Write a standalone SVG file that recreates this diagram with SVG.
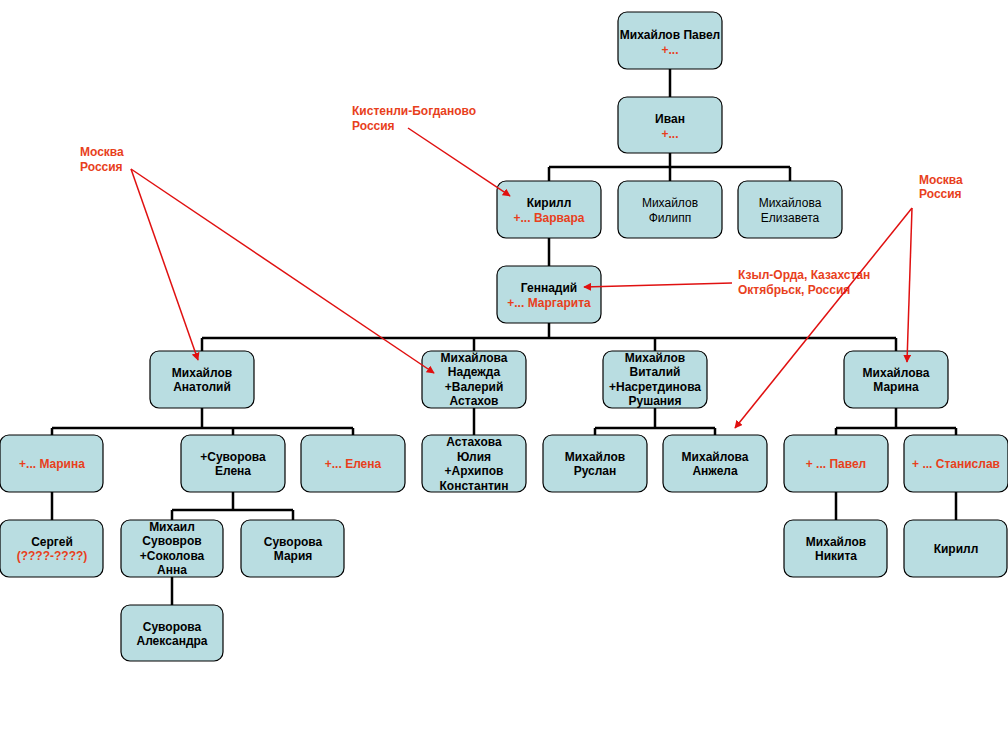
<svg xmlns="http://www.w3.org/2000/svg" width="1008" height="756" viewBox="0 0 1008 756">
<defs>
<style>
.box{fill:#b9dde1;stroke:#000;stroke-width:1.2}
text{font-family:"Liberation Sans",Arial,sans-serif;font-size:12px;font-weight:bold;fill:#000;text-anchor:middle}
.n{font-weight:normal}
.r{fill:#e8401c}
.ann{fill:#e8401c;text-anchor:start}
.c{stroke:#000;stroke-width:2.5;fill:none}
.a{stroke:#e01010;stroke-width:1.5;fill:none;marker-end:url(#ah)}
</style>
<marker id="ah" viewBox="0 0 10 10" refX="9" refY="5" markerWidth="8" markerHeight="8" markerUnits="userSpaceOnUse" orient="auto">
<path d="M0,0 L10,5 L0,10 z" fill="#e01010"/>
</marker>
</defs>
<rect width="1008" height="756" fill="#fff"/>
<g id="connectors">
<path class="c" d="M670,69 V97 M670,153 V167 M549,167 H790 M549,167 V181 M670,167 V181 M790,167 V181"/>
<path class="c" d="M549,238 V266 M549,323 V338 M202,338 H896 M202,338 V351 M474,338 V351 M655,338 V351 M896,338 V351"/>
<path class="c" d="M202,408 V428 M52,428 H353 M52,428 V435 M233,428 V435 M353,428 V435"/>
<path class="c" d="M474,408 V435"/>
<path class="c" d="M655,408 V428 M595,428 H715 M595,428 V435 M715,428 V435"/>
<path class="c" d="M896,408 V428 M836,428 H956 M836,428 V435 M956,428 V435"/>
<path class="c" d="M52,492 V520 M233,492 V510 M172,510 H293 M172,510 V520 M293,510 V520 M172,577 V605"/>
<path class="c" d="M836,492 V520 M956,492 V520"/>
</g>
<g id="n-pavel"><rect class="box" x="618" y="12" width="104" height="57" rx="9"/><text x="670" y="39">Михайлов Павел</text><text class="r" x="670" y="54">+...</text></g>
<g id="n-ivan"><rect class="box" x="618" y="97" width="104" height="56" rx="9"/><text x="670" y="123">Иван</text><text class="r" x="670" y="138">+...</text></g>
<g id="n-kirill"><rect class="box" x="497" y="181" width="104" height="57" rx="9"/><text x="549" y="207">Кирилл</text><text class="r" x="549" y="222">+... Варвара</text></g>
<g id="n-filipp"><rect class="box" x="618" y="181" width="104" height="57" rx="9"/><text class="n" x="670" y="207">Михайлов</text><text class="n" x="670" y="222">Филипп</text></g>
<g id="n-elizaveta"><rect class="box" x="738" y="181" width="104" height="57" rx="9"/><text class="n" x="790" y="207">Михайлова</text><text class="n" x="790" y="222">Елизавета</text></g>
<g id="n-gennadiy"><rect class="box" x="497" y="266" width="104" height="57" rx="9"/><text x="549" y="292">Геннадий</text><text class="r" x="549" y="307">+... Маргарита</text></g>
<g id="n-anatoliy"><rect class="box" x="150" y="351" width="104" height="57" rx="9"/><text x="202" y="377">Михайлов</text><text x="202" y="391">Анатолий</text></g>
<g id="n-nadezhda"><rect class="box" x="422" y="351" width="104" height="57" rx="9"/><text x="474" y="362">Михайлова</text><text x="474" y="376">Надежда</text><text x="474" y="391">+Валерий</text><text x="474" y="405">Астахов</text></g>
<g id="n-vitaliy"><rect class="box" x="603" y="351" width="104" height="57" rx="9"/><text x="655" y="362">Михайлов</text><text x="655" y="376">Виталий</text><text x="655" y="391">+Насретдинова</text><text x="655" y="405">Рушания</text></g>
<g id="n-marina"><rect class="box" x="844" y="351" width="104" height="57" rx="9"/><text x="896" y="377">Михайлова</text><text x="896" y="391">Марина</text></g>
<g id="n-marina2"><rect class="box" x="0" y="435" width="103" height="57" rx="9"/><text class="r" x="52" y="468">+... Марина</text></g>
<g id="n-suvorova-elena"><rect class="box" x="181" y="435" width="104" height="57" rx="9"/><text x="233" y="461">+Суворова</text><text x="233" y="475">Елена</text></g>
<g id="n-elena"><rect class="box" x="301" y="435" width="104" height="57" rx="9"/><text class="r" x="353" y="468">+... Елена</text></g>
<g id="n-yuliya"><rect class="box" x="422" y="435" width="104" height="57" rx="9"/><text x="474" y="446">Астахова</text><text x="474" y="461">Юлия</text><text x="474" y="475">+Архипов</text><text x="474" y="490">Константин</text></g>
<g id="n-ruslan"><rect class="box" x="543" y="435" width="104" height="57" rx="9"/><text x="595" y="461">Михайлов</text><text x="595" y="475">Руслан</text></g>
<g id="n-anzhela"><rect class="box" x="663" y="435" width="104" height="57" rx="9"/><text x="715" y="461">Михайлова</text><text x="715" y="475">Анжела</text></g>
<g id="n-pavel2"><rect class="box" x="784" y="435" width="104" height="57" rx="9"/><text class="r" x="836" y="468">+ ... Павел</text></g>
<g id="n-stanislav"><rect class="box" x="904" y="435" width="104" height="57" rx="9"/><text class="r" x="956" y="468">+ ... Станислав</text></g>
<g id="n-sergey"><rect class="box" x="0" y="520" width="103" height="57" rx="9"/><text x="52" y="546">Сергей</text><text class="r" x="52" y="560">(????-????)</text></g>
<g id="n-mikhail"><rect class="box" x="121" y="520" width="102" height="57" rx="9"/><text x="172" y="531">Михаил</text><text x="172" y="545">Сувовров</text><text x="172" y="560">+Соколова</text><text x="172" y="574">Анна</text></g>
<g id="n-mariya"><rect class="box" x="241" y="520" width="103" height="57" rx="9"/><text x="293" y="546">Суворова</text><text x="293" y="560">Мария</text></g>
<g id="n-aleksandra"><rect class="box" x="121" y="605" width="102" height="56" rx="9"/><text x="172" y="631">Суворова</text><text x="172" y="645">Александра</text></g>
<g id="n-nikita"><rect class="box" x="784" y="520" width="103" height="57" rx="9"/><text x="836" y="546">Михайлов</text><text x="836" y="560">Никита</text></g>
<g id="n-kirill2"><rect class="box" x="904" y="520" width="103" height="57" rx="9"/><text x="956" y="553">Кирилл</text></g>
<g id="annotations">
<text class="ann" x="352" y="115">Кистенли-Богданово</text><text class="ann" x="352" y="130">Россия</text>
<text class="ann" x="80" y="156">Москва</text><text class="ann" x="80" y="171">Россия</text>
<text class="ann" x="919" y="184">Москва</text><text class="ann" x="919" y="198">Россия</text>
<text class="ann" x="738" y="279">Кзыл-Орда, Казахстан</text><text class="ann" x="738" y="294">Октябрьск, Россия</text>
</g>
<g id="arrows">
<line class="a" x1="408" y1="128" x2="510" y2="196"/>
<line class="a" x1="131" y1="169" x2="198" y2="360"/>
<line class="a" x1="131" y1="169" x2="434" y2="373"/>
<line class="a" x1="912" y1="208" x2="907" y2="362"/>
<line class="a" x1="912" y1="208" x2="735" y2="428"/>
<line class="a" x1="732" y1="283" x2="584" y2="287"/>
</g>
</svg>
